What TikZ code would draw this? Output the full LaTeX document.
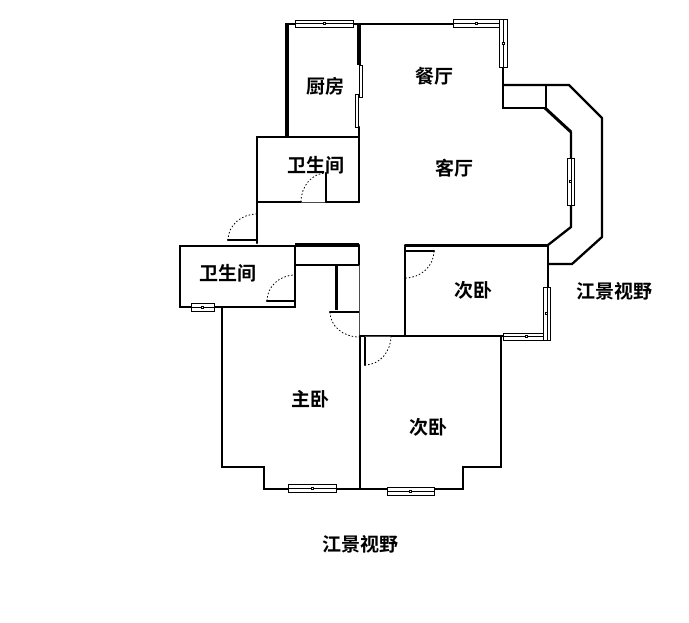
\documentclass[tikz,border=0pt]{standalone}
\usepackage{fontspec}
\setmainfont{Noto Sans CJK SC}[BoldFont={Noto Sans CJK SC Bold}]
\usetikzlibrary{calc}
\tikzset{
	wall/.style={line width=2.3pt,line cap=round,line join=miter},
	heavywall/.style={line width=3.6pt},
	thinwall/.style={line width=0.7pt,black!70},
	windowbox/.style={draw,line width=0.7pt,fill=white},
	doorarc/.style={line width=0.8pt,dash pattern=on 1.5pt off 2pt},
	roomlabel/.style={font=\fontsize{19}{19}\selectfont\bfseries,inner sep=0pt}
}

\begin{document}
\begin{tikzpicture}[x=1pt,y=-1pt]
	\useasboundingbox (0,0) rectangle (689,622);
	% Kitchen
	\draw[heavywall] (287,23) -- (287,137);
	\draw[wall] (257,137) -- (359,137);
	\draw[heavywall] (359,23) -- (359,65);
	\draw[wall] (359,127) -- (359,137);
	\draw[wall] (287,24) -- (295,24);
	\draw[wall] (353,24) -- (453,24);

	% Dining and outer balcony
	\draw[wall] (503,67) -- (503,108) -- (545,108);
	\draw[wall] (503,85) -- (569,85) -- (602,118) -- (602,237) -- (572,264) -- (548,264);
	\draw[wall] (546,85) -- (546,108);
	\draw[line width=3pt] (545,108) -- (571,132);
	\draw[wall] (571,132) -- (571,227) -- (548,245);

	% Small bedroom on the right
	\draw[wall] (548,245) -- (548,287);
	\draw[wall] (405,247) -- (405,336);
	\draw[wall] (405,245.5) -- (548,245.5);
	\draw[wall] (360,336) -- (503,336);
	\draw[wall] (405,251) -- (434,251);

	% Upper bathroom
	\draw[wall] (257,137) -- (257,243);
	\draw[wall] (257,202) -- (301,202);
	\draw[wall] (326,202) -- (359,202);
	\draw[wall] (359,137) -- (359,202);
	\draw[thinwall] (301,202) -- (326,202);
	\draw[wall] (326,173) -- (326,202);
	\draw[wall] (228,240) -- (257,240);

	% Lower bathroom and closet
	\draw[wall] (180,246) rectangle (295,307);
	\draw[heavywall] (295,245) -- (359,245);
	\draw[wall] (359,245) -- (359,265);
	\draw[wall] (295,265) -- (359,265);
	\draw[line width=3pt] (336,265) -- (336,310);
	\draw[wall] (330,312) -- (359,312);
	\draw[thinwall] (359,265) -- (359,337);
	\draw[wall] (267,301) -- (295,301);

	% Bedrooms
	\draw[wall] (222,307) -- (222,467) -- (264,467) -- (264,489) -- (463,489) -- (463,467) -- (501,467) -- (501,336);
	\draw[wall] (360,336) -- (360,489);
	\draw[wall] (365,336) -- (365,365);
	\draw[thinwall] (365,336) -- (391,336);

	% Windows, lying
	\foreach \xa/\ya/\xb/\yb in {295/20/353/27, 453/19/500/27, 503/333/550.5/340, 191/303/214/311,
		288/484/336/492, 387/487/434/495}{
		\draw[windowbox] (\xa,\ya) rectangle (\xb,\yb);
		\draw[line width=0.5pt] ($(\xa,\ya)!0.5!(\xa,\yb)$) -- ($(\xb,\ya)!0.5!(\xb,\yb)$);
		\draw[line width=0.6pt,fill=white] ($(\xa,\ya)!0.5!(\xb,\yb)+(-1,-1)$) rectangle +(2,2);
	}
	% Windows, standing
	\foreach \xa/\ya/\xb/\yb in {499/19/507/67, 567/158/574.5/205, 543/287/550.5/340}{
		\draw[windowbox] (\xa,\ya) rectangle (\xb,\yb);
		\draw[line width=0.5pt] ($(\xa,\ya)!0.5!(\xb,\ya)$) -- ($(\xa,\yb)!0.5!(\xb,\yb)$);
		\draw[line width=0.6pt,fill=white] ($(\xa,\ya)!0.5!(\xb,\yb)+(-1,-1)$) rectangle +(2,2);
	}
	% Sliding door of the kitchen
	\draw[windowbox] (359.5,65) rectangle (362.5,97);
	\draw[windowbox] (355,94) rectangle (358.5,127);

	% Door swings
	\foreach \cx/\cy/\sa/\ea/\rx/\ry in {326/202/180/270/25/29, 257/240/270/180/29/26, 295/301/180/270/28/26,
		359/312/180/90/29/25, 365/336/0/90/26/29, 405/251/0/90/29/27}{
		\draw[doorarc] ($(\cx,\cy)+({\rx*cos(\sa)},{\ry*sin(\sa)})$) arc (\sa:\ea:\rx pt and -\ry pt);
	}

	% Room names
	\node[roomlabel] (kitchen) at (325,86) {厨房};
	\node[roomlabel] (dining) at (434,76) {餐厅};
	\node[roomlabel] (bathA) at (316,165) {卫生间};
	\node[roomlabel] (living) at (454,168) {客厅};
	\node[roomlabel] (bathB) at (228,273) {卫生间};
	\node[roomlabel] (bedA) at (473,290) {次卧};
	\node[roomlabel] (viewA) at (614,291) {江景视野};
	\node[roomlabel] (master) at (310,399) {主卧};
	\node[roomlabel] (bedB) at (428,427) {次卧};
	\node[roomlabel] (viewB) at (360,544) {江景视野};
\end{tikzpicture}
\end{document}
